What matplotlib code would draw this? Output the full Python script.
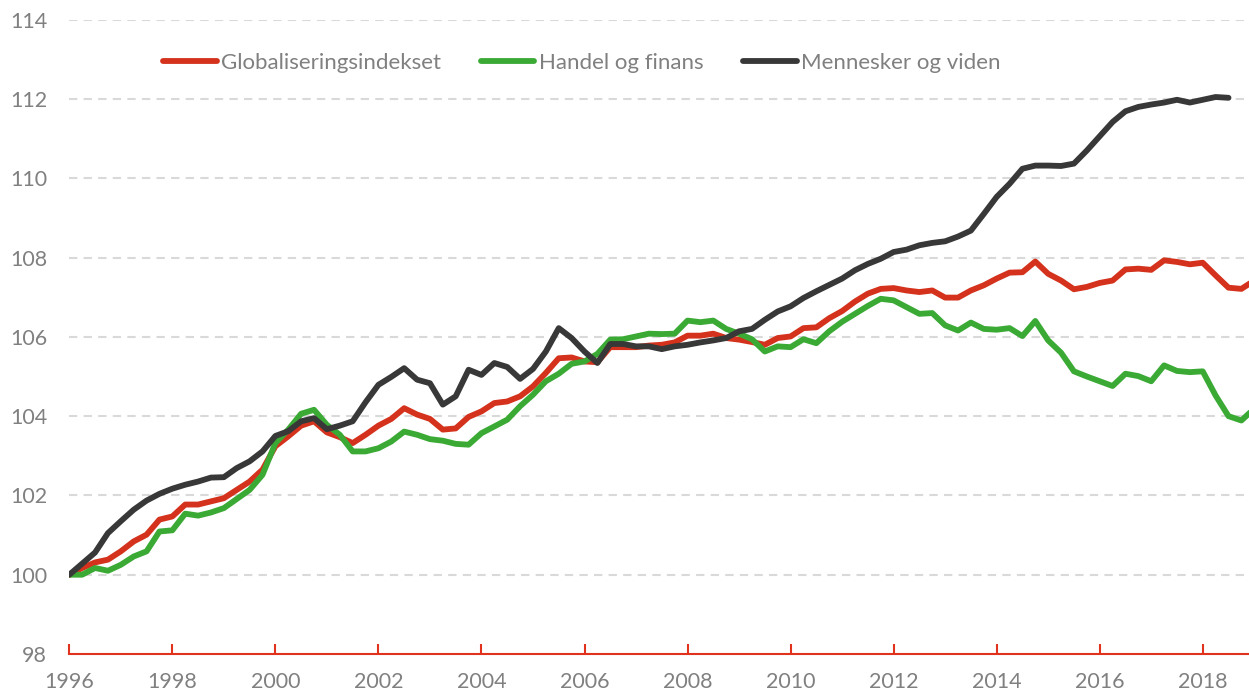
import numpy as np
from matplotlib import pyplot as plt

# Quarterly index values, 1996Q1 = 100
globalisering = [100.00, 100.17, 100.31, 100.38, 100.59, 100.84, 101.01, 101.39, 101.47, 101.77,
                 101.77, 101.85, 101.93, 102.14, 102.35, 102.65, 103.24, 103.49, 103.76, 103.87,
                 103.59, 103.47, 103.32, 103.53, 103.76, 103.93, 104.20, 104.04, 103.93, 103.66,
                 103.69, 103.98, 104.12, 104.33, 104.37, 104.50, 104.75, 105.09, 105.46, 105.48,
                 105.38, 105.36, 105.74, 105.74, 105.74, 105.78, 105.80, 105.86, 106.03, 106.03,
                 106.08, 105.97, 105.93, 105.87, 105.80, 105.97, 106.01, 106.22, 106.24, 106.47,
                 106.65, 106.89, 107.09, 107.21, 107.23, 107.17, 107.13, 107.17, 106.99, 106.99,
                 107.17, 107.30, 107.47, 107.62, 107.63, 107.90, 107.59, 107.42, 107.20, 107.26,
                 107.36, 107.42, 107.70, 107.72, 107.69, 107.93, 107.89, 107.83, 107.87, 107.55,
                 107.24, 107.21, 107.42]

handel = [100.00, 100.00, 100.17, 100.10, 100.25, 100.46, 100.59, 101.09, 101.12, 101.54,
          101.49, 101.57, 101.68, 101.91, 102.14, 102.52, 103.32, 103.66, 104.06, 104.16,
          103.78, 103.53, 103.11, 103.11, 103.19, 103.36, 103.61, 103.53, 103.42, 103.38,
          103.30, 103.28, 103.57, 103.74, 103.91, 104.25, 104.54, 104.88, 105.07, 105.32,
          105.38, 105.57, 105.93, 105.94, 106.01, 106.08, 106.07, 106.08, 106.41, 106.37,
          106.41, 106.20, 106.08, 105.94, 105.63, 105.76, 105.74, 105.94, 105.84, 106.14,
          106.38, 106.58, 106.78, 106.96, 106.92, 106.75, 106.58, 106.60, 106.29, 106.16,
          106.36, 106.20, 106.18, 106.22, 106.02, 106.40, 105.91, 105.60, 105.13, 105.00,
          104.88, 104.76, 105.07, 105.01, 104.88, 105.28, 105.14, 105.11, 105.13, 104.52,
          104.00, 103.89, 104.19]

mennesker = [100.00, 100.28, 100.56, 101.05, 101.35, 101.64, 101.87, 102.04, 102.17, 102.27,
             102.35, 102.45, 102.46, 102.69, 102.86, 103.11, 103.50, 103.62, 103.87, 103.95,
             103.67, 103.76, 103.87, 104.35, 104.79, 104.99, 105.21, 104.92, 104.83, 104.29,
             104.50, 105.17, 105.04, 105.34, 105.24, 104.94, 105.19, 105.63, 106.22, 105.97,
             105.63, 105.34, 105.82, 105.82, 105.76, 105.76, 105.69, 105.76, 105.80, 105.86,
             105.91, 105.97, 106.14, 106.20, 106.43, 106.64, 106.77, 106.98, 107.15, 107.31,
             107.47, 107.68, 107.84, 107.97, 108.14, 108.20, 108.31, 108.37, 108.41, 108.53,
             108.68, 109.10, 109.53, 109.86, 110.24, 110.32, 110.32, 110.31, 110.37, 110.70,
             111.06, 111.42, 111.69, 111.80, 111.86, 111.91, 111.98, 111.91, 111.98, 112.05,
             112.03]

labels = ['Globaliseringsindekset', 'Handel og finans', 'Mennesker og viden']
colors = ['#d4321c', '#3aaa35', '#383838']
xticks = list(range(1996, 2019, 2))
yticks = list(range(98, 115, 2))

plt.rcParams['font.family'] = ['Lato', 'DejaVu Sans']

fig = plt.figure(figsize=(12.49, 6.95), dpi=100)
ax = fig.add_axes([69.3 / 1249, 41 / 695, 1 - 69.3 / 1249, (654.3 - 20) / 695])

for series, lab, col in zip([globalisering, handel, mennesker], labels, colors):
    x = 1996 + np.arange(len(series)) / 4
    ax.plot(x, series, color=col, lw=4.2, label=lab,
            solid_capstyle='round', solid_joinstyle='round')

ax.set_xlim(1996, 1996 + (1249 - 69.3) / 51.52)
ax.set_ylim(98, 114)
ax.set_xticks(xticks)
ax.set_yticks(yticks)

for v in yticks[1:]:
    ax.axhline(v, color='#d9d9d9', lw=1.5, ls=(0, (4, 3)), zorder=0)

for s in ['top', 'right', 'left']:
    ax.spines[s].set_visible(False)
ax.spines['bottom'].set_color('#e0321c')
ax.spines['bottom'].set_linewidth(1.5)

ax.tick_params(axis='x', direction='in', length=7, width=1.5, color='#e0321c',
               labelcolor='#808080', labelsize=15.5, pad=13)
ax.tick_params(axis='y', length=0, labelcolor='#808080', labelsize=15.5, pad=16)

leg = ax.legend(loc='center', ncol=3, frameon=False, fontsize=16,
                handlelength=2.4, handletextpad=0.2, columnspacing=1.8)
leg.set_bbox_to_anchor((582 / 1249, 1 - 63 / 695), transform=fig.transFigure)
for t in leg.get_texts():
    t.set_color('#808080')

fig.savefig('out.png', dpi=100)
